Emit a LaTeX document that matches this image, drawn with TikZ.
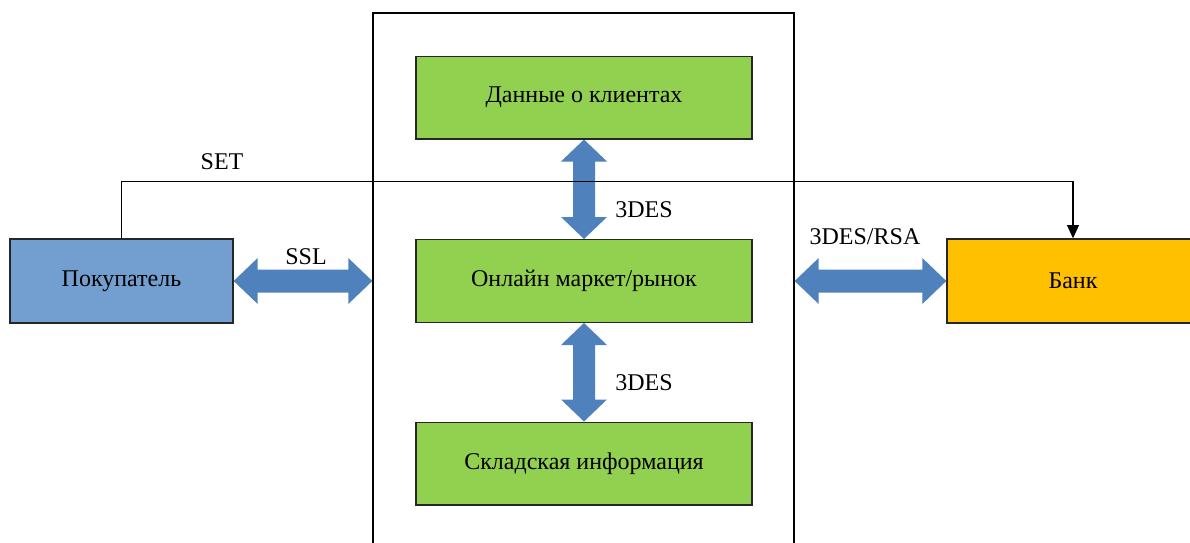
\documentclass[tikz,border=0pt]{standalone}
\usepackage{fontspec}
\setmainfont{Liberation Serif}
\usetikzlibrary{arrows.meta,calc}

\definecolor{boxgreen}{RGB}{146,208,80}
\definecolor{buyerblue}{RGB}{114,159,207}
\definecolor{bankorange}{RGB}{255,192,0}
\definecolor{arrowblue}{RGB}{79,129,189}

\tikzset{
	block/.style={draw=black!85, line width=1pt, fill=boxgreen, minimum width=252pt, minimum height=62pt, font=\fontsize{18}{21}\selectfont},
	tag/.style={font=\fontsize{18}{21}\selectfont},
}

\newcommand{\hblock}[2]{\fill[arrowblue] (#1) -- ($(#1)+(24,-23)$) -- ($(#1)+(24,-11.5)$) -- ($(#2)+(-24,-11.5)$) -- ($(#2)+(-24,-23)$) -- (#2) -- ($(#2)+(-24,23)$) -- ($(#2)+(-24,11.5)$) -- ($(#1)+(24,11.5)$) -- ($(#1)+(24,23)$) -- cycle;}
\newcommand{\vblock}[2]{\fill[arrowblue] (#1) -- ($(#1)+(23,22)$) -- ($(#1)+(11,22)$) -- ($(#2)+(11,-22)$) -- ($(#2)+(23,-22)$) -- (#2) -- ($(#2)+(-23,-22)$) -- ($(#2)+(-11,-22)$) -- ($(#1)+(-11,22)$) -- ($(#1)+(-23,22)$) -- cycle;}

\begin{document}
\begin{tikzpicture}[x=0.75pt, y=-0.75pt]
	\useasboundingbox (0,0) rectangle (1190,543);
	\clip (0,0) rectangle (1190,543);

	\node[draw, line width=1pt, minimum width=315.75pt, minimum height=410.25pt] (frame) at (583.5,286.5) {};
	\node[block] (clients) at (584,97.5) {Данные о клиентах};
	\node[block] (market) at (584,281) {Онлайн маркет/рынок};
	\node[block] (stock) at (584,463.5) {Складская информация};
	\node[block, fill=buyerblue, minimum width=167.25pt, minimum height=63pt] (buyer) at (121.5,281) {Покупатель};
	\node[block, fill=bankorange, minimum width=189pt, minimum height=63pt] (bank) at (1073,281) {Банк};

	\coordinate (sslend) at (buyer.east -| frame.west);
	\coordinate (bankstart) at (bank.west -| frame.east);

	\hblock{buyer.east}{sslend}
	\hblock{bankstart}{bank.west}
	\vblock{clients.south}{market.north}
	\vblock{market.south}{stock.north}

	\draw[line width=0.8pt, -{Triangle[width=9pt,length=10pt]}] (buyer.north) -- ++(0,-57) -| (bank.north);

	\node[tag] (set) at (222,162) {SET};
	\node[tag] (ssl) at (306,257) {SSL};
	\node[tag] (rsa) at (865,237) {3DES/RSA};
	\node[tag] (desup) at (644,210) {3DES};
	\node[tag] (deslow) at (644,383) {3DES};
\end{tikzpicture}
\end{document}
